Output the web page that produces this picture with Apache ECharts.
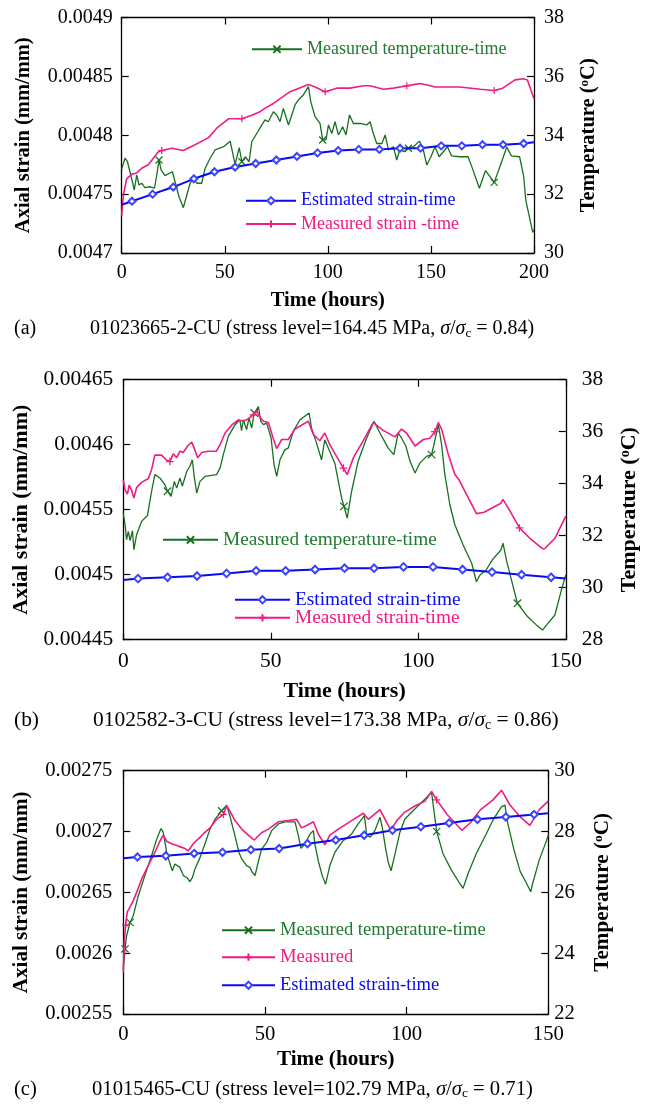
<!DOCTYPE html>
<html><head><meta charset="utf-8">
<script src="https://cdn.jsdelivr.net/npm/echarts/dist/echarts.min.js"></script>
<style>html,body{margin:0;padding:0;background:#fff}#c{width:654px;height:1104px}</style>
</head><body><div id="c"></div>
<script>
// ---------- DATA ----------
// Panel (a)  01023665-2-CU
const aTemp = [[0,32.85],[1.6,33.22],[2.8,33.1],[4,32.76],[5.2,32.42],[6.1,32.14],[7.3,32.65],[8.4,32.31],[9.7,32.37],[11.3,32.22],[13.8,32.25],[15.9,32.2],[17,32.65],[18.1,33.16],[19.1,32.82],[21,32.63],[24.6,32.76],[25.9,32.42],[27.8,31.91],[29.9,31.54],[31.6,31.97],[33.2,32.37],[34.8,32.54],[36.4,32.37],[38.8,32.37],[40.5,32.88],[42.9,33.22],[45.3,33.5],[49.4,33.61],[52.6,33.8],[53.7,33.44],[55,33.01],[57,33.58],[58.3,33.1],[59.9,33.27],[61.8,33.1],[63.1,33.78],[65.5,34.06],[68,34.35],[69.5,34.52],[71.1,34.46],[73.6,34.8],[75.2,34.69],[76.8,34.46],[78.4,34.91],[80.9,34.35],[82.5,34.69],[84.1,35.03],[85.7,35.2],[88.1,35.37],[90.6,35.65],[91.7,35.14],[93.8,34.63],[96.2,34.4],[97.5,33.84],[99.1,33.84],[100.3,34.35],[101.9,34.06],[103.5,34.46],[105.1,34.01],[107.2,34.29],[108.8,34.01],[110.5,34.69],[112.4,34.4],[115.6,34.4],[118.9,34.35],[120.5,34.46],[121.8,34.12],[123.7,33.72],[126.2,33.72],[127.8,34.01],[129.4,33.5],[131.8,33.61],[133.4,33.16],[135.1,33.56],[136.7,33.44],[139.1,33.56],[141.5,33.61],[144.4,33.8],[146.1,33.56],[148,32.99],[150,33.27],[152,33.61],[154,33.27],[158,33.61],[160,33.3],[164,33.27],[168,33.27],[170,32.9],[173.5,32.2],[176.5,32.8],[180.7,32.4],[183.8,33.0],[186.8,33.6],[189,33.3],[193,33.27],[195,32.6],[196,31.8],[198,31.15],[199.4,30.7],[200,30.8]];
const aTempMarks = [18.1,58.3,97.5,139.1,180.7];
const aStrain = [[0,0.004732],[0.8,0.004749],[2.4,0.004763],[4.9,0.004767],[7.3,0.004768],[9.7,0.004772],[12.9,0.004775],[17.8,0.004786],[19.4,0.004787],[24.3,0.004789],[29.9,0.004787],[35.6,0.004792],[42.1,0.004798],[46.1,0.004806],[51.8,0.004814],[58.3,0.004814],[63.1,0.004817],[67.1,0.00482],[69.6,0.004823],[73.6,0.004827],[81.7,0.004837],[90.6,0.004843],[93.8,0.004841],[98.7,0.004837],[104.3,0.00484],[110.8,0.00484],[117.3,0.004842],[120.5,0.004842],[127,0.004839],[131.8,0.00484],[138.3,0.004842],[141.5,0.004843],[144.8,0.004844],[149.6,0.004842],[152,0.004841],[164,0.004841],[174,0.004839],[180.7,0.004838],[184.8,0.00484],[190.8,0.004847],[194.8,0.004848],[196.8,0.004847],[200,0.004831]];
const aStrainMarks = [19.4,58.3,98.7,138.3,180.7];
const aEst = [[0,0.004741],[5,0.004744],[15,0.00475],[25,0.004756],[35,0.004763],[45,0.004769],[55,0.004773],[65,0.004776],[75,0.004779],[85,0.004782],[95,0.004785],[105,0.004787],[115,0.004788],[125,0.004788],[135,0.004789],[145,0.004789],[155,0.004791],[165,0.004791],[175,0.004792],[185,0.004792],[195,0.004793],[200,0.004794]];
const aEstMarks = [5,15,25,35,45,55,65,75,85,95,105,115,125,135,145,155,165,175,185,195];

// Panel (b)  0102582-3-CU
const bTemp = [[0,32.87],[0.6,32.42],[1.1,31.85],[1.7,32.17],[2.3,31.81],[3.1,32.19],[3.6,31.46],[4.5,32.04],[6.2,32.55],[8.2,32.78],[9.6,33.71],[10.7,34.35],[12.4,34.22],[14.1,33.96],[15,33.71],[16.2,33.51],[17.3,34.09],[18.1,33.83],[19.2,34.22],[20,33.9],[21.5,34.47],[22.6,34.67],[23.4,34.92],[24.1,34.22],[24.9,33.64],[26,34.09],[27.7,34.28],[31.6,34.35],[32.8,34.6],[33.9,35.12],[35.6,35.82],[37.9,36.27],[39.5,36.46],[40.1,36.04],[40.7,36.46],[41.8,36.08],[42.6,36.53],[43.5,36.14],[44.4,36.72],[45.8,36.97],[46.6,36.4],[47.5,36.27],[48.6,36.33],[50.1,35.76],[51.1,34.73],[52,34.28],[53.1,34.92],[54.8,35.31],[55.9,35.37],[57.6,36.01],[59.9,36.46],[63,36.72],[63.8,36.14],[65.5,35.56],[67.2,34.92],[68.3,35.69],[70,35.24],[71.7,34.79],[74,33.45],[74.8,33.13],[75.9,32.68],[77.4,33.71],[79.6,34.86],[82.5,35.76],[85,36.4],[87,35.95],[89.8,35.37],[91.7,35.12],[93.2,35.95],[94.3,35.76],[95.8,35.44],[97.2,34.86],[98.9,34.41],[100.5,34.79],[102.8,35.05],[104.5,35.12],[105.3,35.5],[106.8,36.27],[107.9,35.5],[109,34.35],[110.7,33.19],[112.4,32.42],[115.2,31.64],[118.1,30.94],[119.7,30.23],[120.9,30.49],[123,30.68],[125.1,31.07],[128,31.45],[128.7,31.71],[130,31.0],[133.6,29.4],[137.1,28.88],[140,28.57],[142.1,28.37],[143.5,28.57],[146.3,28.95],[148.5,29.91],[150,30.49]];
const bTempMarks = [15,44.4,74.8,104.5,133.6];
const bStrain = [[0,0.004573],[0.6,0.004565],[1.4,0.004562],[2,0.004569],[2.8,0.004565],[3.6,0.004559],[4.5,0.004567],[6.2,0.004571],[8.5,0.004574],[9.6,0.004581],[10.7,0.004592],[13,0.004592],[14.7,0.004588],[15.8,0.004587],[16.9,0.004593],[18.1,0.00459],[19.2,0.004595],[20.3,0.004594],[21.8,0.004599],[23.2,0.004602],[24.1,0.004597],[25.2,0.00459],[26.6,0.004594],[28.8,0.004595],[31.6,0.004595],[32.8,0.0046],[34.5,0.004609],[36.7,0.004615],[39,0.004619],[40.7,0.004618],[42.4,0.00462],[44.1,0.004623],[45.2,0.004626],[46.3,0.004621],[47.5,0.004618],[49.2,0.004617],[50.8,0.004605],[52,0.004597],[53.7,0.004604],[55.9,0.004604],[58.2,0.004612],[60.4,0.004615],[62.7,0.004618],[64.4,0.004608],[66.6,0.004603],[68.3,0.004609],[70,0.0046],[72.3,0.004591],[74.6,0.004582],[75.9,0.004577],[78,0.00459],[81.3,0.004603],[84.7,0.004617],[88.1,0.004611],[92.1,0.004606],[94.3,0.004612],[96,0.004609],[98.9,0.004599],[101.7,0.004604],[103.9,0.004605],[105.6,0.00461],[106.8,0.004617],[107.9,0.004612],[110.1,0.004593],[112.4,0.004577],[113.8,0.004573],[119.7,0.004547],[122.3,0.004548],[128,0.004555],[128.7,0.004558],[130.8,0.00455],[134.3,0.004536],[137.8,0.004528],[142.1,0.00452],[142.8,0.00452],[146.3,0.004528],[150,0.004545]];
const bStrainMarks = [15.8,44.1,74.6,105.6,134.3];
const bEst = [[0,0.004496],[5,0.004497],[15,0.004498],[25,0.004499],[35,0.004501],[45,0.004503],[55,0.004503],[65,0.004504],[75,0.004505],[85,0.004505],[95,0.004506],[105,0.004506],[115,0.004504],[125,0.004502],[135,0.0045],[145,0.004498],[150,0.004497]];
const bEstMarks = [5,15,25,35,45,55,65,75,85,95,105,115,125,135,145];

// Panel (c)  01015465-CU
const cTemp = [[0,23.48],[0.6,24.14],[1.2,24.58],[2.4,25.01],[3.5,25.23],[5.3,25.89],[7.6,26.55],[10,27.21],[11.8,27.75],[13.3,28.1],[14.1,27.97],[15.3,27.32],[16.5,26.93],[17.3,26.71],[18.2,26.93],[20,26.82],[21.2,26.55],[22.4,26.49],[23.5,26.35],[24.4,26.49],[25.3,26.77],[27.1,27.15],[28.8,27.59],[30.6,28.08],[32.4,28.41],[34.7,28.68],[36.5,28.87],[37.6,28.52],[39.4,27.86],[40.8,27.32],[41.8,27.1],[43.5,26.88],[44.7,26.82],[45.5,26.66],[46.5,26.55],[47.6,26.99],[48.8,27.42],[50.6,27.64],[52.4,28.03],[54.7,28.25],[57.1,28.32],[60.6,28.32],[61.8,27.86],[62.7,27.45],[64.1,27.59],[65.9,27.92],[67.1,28.03],[67.6,27.59],[68.8,27.04],[70.2,26.55],[71.4,26.27],[72.9,26.88],[74.7,27.32],[77.6,27.7],[80.6,27.92],[82.9,28.25],[85.1,28.52],[85.9,27.88],[87.1,27.81],[88.8,28.03],[90.6,28.47],[91.4,28.14],[92.6,27.43],[93.5,26.99],[94.5,26.71],[95.9,27.26],[97.6,27.97],[99.4,28.41],[102.9,28.74],[106.5,29.07],[108.8,29.29],[110.6,28.0],[112.8,27.28],[115.8,26.73],[118.7,26.3],[119.9,26.13],[121.7,26.62],[124.6,27.28],[127.6,27.83],[130.5,28.38],[133.5,28.82],[134.7,28.87],[135.7,28.27],[137.9,27.39],[140.1,26.68],[142.3,26.3],[143.8,26.02],[144.5,26.3],[146.8,27.06],[149,27.61],[150,27.88]];
const cTempMarks = [0.6,2.4,34.7,110.6];
const cStrain = [[0,0.002584],[0.35,0.002609],[0.8,0.002623],[1.4,0.002634],[2.4,0.002638],[3.5,0.002643],[4.7,0.00265],[6.5,0.002661],[8.8,0.002672],[11.2,0.002683],[12.9,0.002692],[14.1,0.002697],[15.3,0.002692],[17.1,0.00269],[19.4,0.002688],[21.8,0.002686],[22.9,0.002684],[24.7,0.00269],[26.5,0.002694],[28.2,0.002698],[30.6,0.002703],[32.9,0.00271],[35.3,0.002714],[36.5,0.002721],[37.6,0.002717],[39.4,0.002709],[41.8,0.002702],[44.1,0.002697],[46.2,0.002693],[48.8,0.002699],[51.2,0.002702],[54.7,0.002708],[58.2,0.002709],[61.2,0.00271],[62.9,0.002703],[64.7,0.002705],[67.1,0.002708],[68.8,0.002698],[71.2,0.002689],[72.9,0.002697],[75.9,0.002702],[80.6,0.002709],[84.7,0.002715],[86.5,0.00271],[90.6,0.002718],[93.5,0.002705],[94.5,0.002701],[96.5,0.002709],[99.4,0.002716],[102.9,0.002721],[106.5,0.002725],[108.8,0.002733],[110.6,0.002726],[114.3,0.002714],[119.5,0.002701],[122.4,0.002707],[126.1,0.002718],[130.5,0.002726],[133.5,0.002734],[136.4,0.002722],[140.1,0.002712],[143.5,0.002705],[146.8,0.002718],[150,0.002725]];
const cStrainMarks = [0.8,35.3,110.6];
const cEst = [[0,0.002678],[5,0.002679],[15,0.00268],[25,0.002682],[35,0.002683],[45,0.002685],[55,0.002686],[65,0.00269],[75,0.002693],[85,0.002697],[95,0.002701],[105,0.002704],[115,0.002707],[125,0.00271],[135,0.002712],[145,0.002714],[150,0.002715]];
const cEstMarks = [5,15,25,35,45,55,65,75,85,95,105,115,125,135,145];

// ---------- STYLE / LAYOUT ----------
const FONT = 'Liberation Serif';
const GREEN = '#17701f', GREEN_T = '#217a30', PINK = '#f01c84', BLUE = '#0a0af0', DIAM = '#3a44ff';
const XPATH = 'path://M0,0L10,10M10,0L0,10';
const PPATH = 'path://M5,0L5,10M0,5L10,5';

const panels = [
  {L:121.7,T:17.5,W:412.3,H:235.5,s:1,xMax:200,yMin:0.0047,yMax:0.0049,tMin:30,tMax:38,
   temp:aTemp,tempM:aTempMarks,strain:aStrain,strainM:aStrainMarks,est:aEst,estM:aEstMarks,
   strainName:'Measured strain -time', xm:9.5,xg:37.5,lm:9,lg:87,rm:10,rg:44,
   legends:[['t',251,49.3,50],['e',245,200.7,50],['m',245,224,50]],
   tag:'(a)',capL:90,capY:330,cap:'01023665-2-CU (stress level=164.45 MPa, ',ratio:'0.84'},
  {L:123.3,T:379.7,W:442.5,H:260,s:1.073,xMax:150,yMin:0.00445,yMax:0.00465,tMin:28,tMax:38,
   temp:bTemp,tempM:bTempMarks,strain:bStrain,strainM:bStrainMarks,est:bEst,estM:bEstMarks,
   strainName:'Measured strain-time', xm:11,xg:41,lm:10,lg:91,rm:16,rg:53,
   legends:[['t',162,540,55],['e',234,600,55],['m',234,618,55]],
   tag:'(b)',capL:93,capY:722,cap:'0102582-3-CU (stress level=173.38 MPa, ',ratio:'0.86'},
  {L:123.3,T:770.7,W:425,H:243.3,s:1.032,xMax:150,yMin:0.00255,yMax:0.00275,tMin:22,tMax:30,
   temp:cTemp,tempM:cTempMarks,strain:cStrain,strainM:cStrainMarks,est:cEst,estM:cEstMarks,
   strainName:'Measured', xm:10.5,xg:35.5,lm:11,lg:91,rm:6,rg:44,
   legends:[['t',221,930,53],['m',221,957,53],['e',221,985,53]],
   tag:'(c)',capL:92,capY:1090,cap:'01015465-CU (stress level=102.79 MPa, ',ratio:'0.71'}
];

function marks(list, size){
  return function(v){ return list.some(m => Math.abs(m - v[0]) < 1e-6) ? size : 0; };
}

const option = {animation:false, textStyle:{fontFamily:FONT}, grid:[], xAxis:[], yAxis:[], series:[], legend:[], graphic:[]};

panels.forEach((P,i) => {
  const s = P.s;
  option.grid.push({left:P.L, top:P.T, width:P.W, height:P.H, containLabel:false, outerBoundsMode:'none'});
  const axisLine = {show:true, onZero:false, lineStyle:{color:'#000', width:1.3}};
  const tick = {show:true, inside:true, length:7, lineStyle:{color:'#000', width:1.2}};
  const lab = {fontSize:20*s, color:'#000', fontFamily:FONT};
  const title = {fontSize:20.5*s, fontWeight:'bold', color:'#000', fontFamily:FONT};
  option.xAxis.push({gridIndex:i, type:'value', min:0, max:P.xMax, interval:50, position:'bottom',
    axisLine, axisTick:tick, splitLine:{show:false}, axisLabel:Object.assign({margin:P.xm}, lab),
    name:'Time (hours)', nameLocation:'middle', nameGap:P.xg, nameTextStyle:title});
  option.xAxis.push({gridIndex:i, type:'value', min:0, max:P.xMax, interval:50, position:'top',
    axisLine, axisTick:tick, splitLine:{show:false}, axisLabel:{show:false}});
  option.yAxis.push({gridIndex:i, type:'value', min:P.yMin, max:P.yMax, interval:0.00005, position:'left',
    axisLine, axisTick:tick, splitLine:{show:false},
    axisLabel:Object.assign({margin:P.lm, formatter: v => String(+v.toFixed(6))}, lab),
    name:'Axial strain (mm/mm)', nameLocation:'middle', nameRotate:90, nameGap:P.lg, nameTextStyle:title});
  option.yAxis.push({gridIndex:i, type:'value', min:P.tMin, max:P.tMax, interval:2, position:'right',
    axisLine, axisTick:tick, splitLine:{show:false},
    axisLabel:Object.assign({margin:P.rm}, lab),
    name:'Temperature ({o|o}C)', nameLocation:'middle', nameRotate:90, nameGap:P.rg,
    nameTextStyle:Object.assign({rich:{o:{fontSize:13*s, fontWeight:'bold', fontFamily:FONT, verticalAlign:'top', color:'#000'}}}, title)});

  option.series.push({type:'line', name:'Measured temperature-time', xAxisIndex:2*i, yAxisIndex:2*i+1,
    data:P.temp, symbol:XPATH, symbolSize:marks(P.tempM, 7*s), showSymbol:true, silent:true,
    lineStyle:{color:GREEN, width:1.3}, itemStyle:{color:GREEN, borderColor:GREEN, borderWidth:1.2}, z:2});
  option.series.push({type:'line', name:P.strainName, xAxisIndex:2*i, yAxisIndex:2*i,
    data:P.strain, symbol:PPATH, symbolSize:marks(P.strainM, 7*s), showSymbol:true, silent:true,
    lineStyle:{color:PINK, width:1.6}, itemStyle:{color:PINK, borderColor:PINK, borderWidth:1.2}, z:3});
  option.series.push({type:'line', name:'Estimated strain-time', xAxisIndex:2*i, yAxisIndex:2*i,
    data:P.est, symbol:'emptyDiamond', symbolSize:marks(P.estM, 7*s), showSymbol:true, silent:true,
    lineStyle:{color:BLUE, width:2}, itemStyle:{color:DIAM, borderWidth:1}, z:4});

  const legFs = 18*s;
  P.legends.forEach(([k,x,y,w]) => {
    const name = k==='t' ? 'Measured temperature-time' : (k==='m' ? P.strainName : 'Estimated strain-time');
    const col = k==='t' ? GREEN_T : (k==='m' ? PINK : BLUE);
    option.legend.push({data:[name], left:x, top:y - legFs/2, orient:'horizontal', padding:0,
      itemWidth:w, itemHeight:9, selectedMode:false,
      textStyle:{color:col, fontSize:legFs, fontFamily:FONT}});
  });

  const cfs = 20*s;
  option.graphic.push({type:'text', left:14, top:P.capY - cfs/2 - 1, silent:true,
    style:{text:P.tag, fontSize:cfs, fontFamily:FONT, fill:'#000'}});
  option.graphic.push({type:'text', left:P.capL, top:P.capY - cfs/2 - 1, silent:true,
    style:{text:'{n|' + P.cap + '}{i|σ}{n|/}{i|σ}{b|c}{n| = ' + P.ratio + ')}', fill:'#000',
      fontSize:cfs, fontFamily:FONT,
      rich:{n:{fontSize:cfs, fontFamily:FONT, fill:'#000'},
            i:{fontSize:cfs, fontFamily:FONT, fontStyle:'italic', fill:'#000'},
            b:{fontSize:13*s, fontFamily:FONT, fill:'#000', verticalAlign:'bottom', padding:[9,0,0,0]}}}});
});

const chart = echarts.init(document.getElementById('c'), null, {renderer:'canvas'});
chart.setOption(option);
</script></body></html>
